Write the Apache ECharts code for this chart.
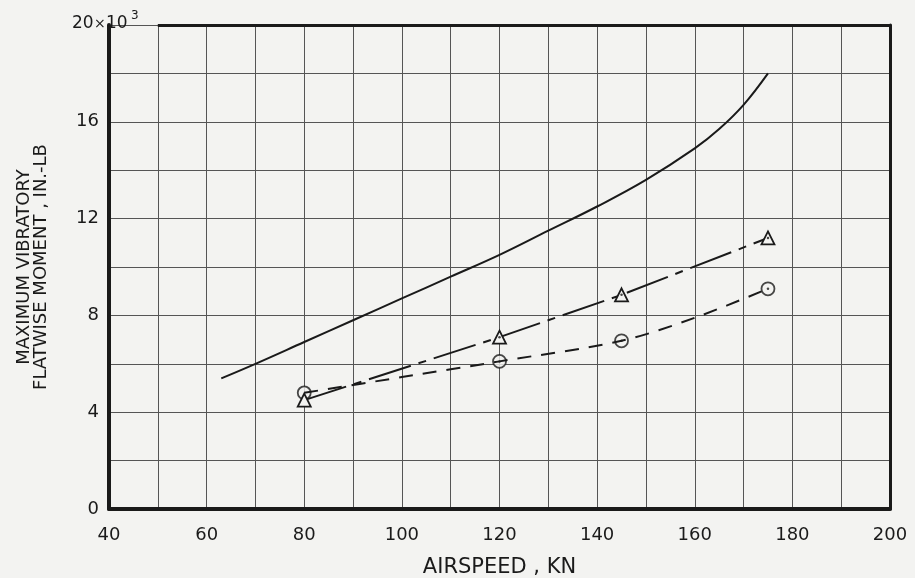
<!DOCTYPE html>
<html>
<head>
<meta charset="utf-8">
<script src="https://cdn.jsdelivr.net/npm/echarts@6/dist/echarts.min.js"></script>
<style>
  html, body { margin: 0; padding: 0; background: #f3f3f1; }
  #chart { width: 915px; height: 578px; }
</style>
</head>
<body>
<div id="chart"></div>
<script>
// Airspeed (kn) vs. maximum vibratory flatwise moment (x10^3 in.-lb)
const solidCurve = [
  [63, 5.4], [70, 6.0], [80, 6.9], [90, 7.8], [100, 8.7], [110, 9.6],
  [120, 10.5], [130, 11.5], [140, 12.5], [150, 13.6], [160, 14.9],
  [165, 15.7], [170, 16.7], [175, 18.0]
];
const trianglePts = [[80, 4.5], [120, 7.1], [145, 8.85], [175, 11.2]];
const circlePts = [[80, 4.8], [100, 5.45], [120, 6.1], [145, 6.95], [160, 7.9], [175, 9.1]];
const circleMarks = [[80, 4.8], [120, 6.1], [145, 6.95], [175, 9.1]];
const xTicks = [40, 60, 80, 100, 120, 140, 160, 180, 200];
const yTicks = [0, 4, 8, 12, 16];

const FONT = 'DejaVu Sans';
const INK = '#1a1a1a';
const PAPER = '#f3f3f1';

const chart = echarts.init(document.getElementById('chart'), null, { renderer: 'canvas' });

const option = {
  backgroundColor: PAPER,
  animation: false,
  grid: { left: 109, right: 25, top: 25, bottom: 69, outerBoundsMode: 'none', containLabel: false },
  xAxis: [{
    type: 'value', min: 40, max: 200, interval: 10,
    name: 'AIRSPEED , KN', nameLocation: 'middle', nameGap: 48,
    nameTextStyle: { fontFamily: FONT, fontSize: 21, color: INK },
    axisLine: { show: true, onZero: false, lineStyle: { color: INK, width: 4 } },
    axisTick: { show: false },
    axisLabel: {
      margin: 17, fontFamily: FONT, fontSize: 18, color: INK,
      formatter: v => (xTicks.includes(v) ? String(v) : '')
    },
    splitLine: { show: true, lineStyle: { color: '#555', width: 1 } }
  }],
  yAxis: [{
    type: 'value', min: 0, max: 20, interval: 2,
    name: 'MAXIMUM VIBRATORY\nFLATWISE MOMENT , IN.-LB',
    nameLocation: 'middle', nameGap: 59, nameRotate: 90,
    nameTextStyle: { fontFamily: FONT, fontSize: 18, color: INK, lineHeight: 17 },
    axisLine: { show: true, onZero: false, lineStyle: { color: INK, width: 4 } },
    axisTick: { show: false },
    axisLabel: {
      margin: 10, fontFamily: FONT, fontSize: 18, color: INK,
      formatter: v => (yTicks.includes(v) ? String(v) : '')
    },
    splitLine: { show: true, lineStyle: { color: '#555', width: 1 } }
  }, {
    type: 'value', min: 0, max: 20, interval: 2, position: 'right',
    axisLine: { show: true, lineStyle: { color: INK, width: 3 } },
    axisTick: { show: false }, axisLabel: { show: false }, splitLine: { show: false }
  }],
  series: [
    {
      name: 'frame', type: 'line', data: [], silent: true,
      markLine: {
        silent: true, symbol: 'none', label: { show: false },
        lineStyle: { color: INK, width: 3, type: 'solid' },
        data: [[{ coord: [50.0, 20] }, { coord: [200, 20] }]]
      }
    },
    {
      name: 'solid', type: 'line', data: solidCurve, smooth: 0.4,
      showSymbol: false, lineStyle: { color: INK, width: 2 }
    },
    {
      name: 'triangle', type: 'line', data: trianglePts, smooth: false,
      symbol: 'triangle', symbolSize: 13,
      itemStyle: { color: PAPER, borderColor: INK, borderWidth: 1.8 },
      lineStyle: { color: INK, width: 2, type: [44, 8, 8, 8] }
    },
    {
      name: 'circle', type: 'line', data: circlePts, smooth: 0.3,
      showSymbol: false,
      lineStyle: { color: INK, width: 2, type: [14, 10] }
    },
    {
      name: 'circleMarks', type: 'scatter', data: circleMarks,
      symbol: 'circle', symbolSize: 13,
      itemStyle: { color: PAPER, borderColor: INK, borderWidth: 1.8 }
    },
    {
      name: 'dots', type: 'scatter', data: trianglePts.slice(1).concat(circleMarks.slice(1)),
      symbol: 'circle', symbolSize: 2.5, itemStyle: { color: INK }, z: 5
    }
  ]
};
chart.setOption(option);

// scale exponent label at the top of the vertical axis
const p = chart.convertToPixel({ gridIndex: 0 }, [40, 20]);
const f = (size) => size + 'px "' + FONT + '"';
chart.setOption({
  graphic: [
    { type: 'text', x: p[0] - 37, y: p[1] - 1, style: { text: '20', font: f(17), fill: INK, verticalAlign: 'middle' } },
    { type: 'text', x: p[0] - 15, y: p[1] - 1, style: { text: '×', font: f(14), fill: INK, verticalAlign: 'middle' } },
    { type: 'text', x: p[0] - 3, y: p[1] - 1, style: { text: '10', font: f(17), fill: INK, verticalAlign: 'middle' } },
    { type: 'text', x: p[0] + 22, y: p[1] - 9, style: { text: '3', font: f(12), fill: INK, verticalAlign: 'middle' } }
  ]
});
</script>
</body>
</html>
